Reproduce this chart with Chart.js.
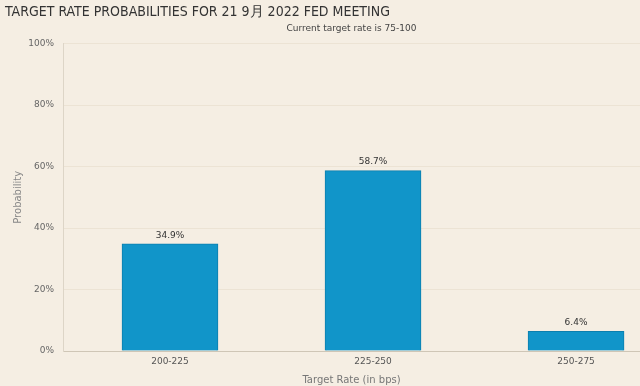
<!DOCTYPE html>
<html>
<head>
<meta charset="utf-8">
<script src="https://cdn.jsdelivr.net/npm/chart.js@4/dist/chart.umd.min.js"></script>
<style>
    html, body { margin: 0; padding: 0; background: #f5eee3; overflow: hidden; }
    #wrap { width: 640px; height: 386px; position: relative; }
</style>
</head>
<body>
<div id="wrap"><canvas id="chart"></canvas></div>
<script>
const categories = ['200-225', '225-250', '250-275'];
const probabilities = [34.9, 58.7, 6.4];
const yTicks = [0, 20, 40, 60, 80, 100];
const titleText = 'TARGET RATE PROBABILITIES FOR 21 9月 2022 FED MEETING';
const subtitleText = 'Current target rate is 75-100';

const fontFamily = '"DejaVu Sans", sans-serif';
const titleFamily = '"Liberation Sans Narrow", "DejaVu Sans Condensed", sans-serif';

// value labels above the bars
const barLabels = {
    id: 'barLabels',
    afterDatasetsDraw: function (chart) {
        const ctx = chart.ctx;
        const meta = chart.getDatasetMeta(0);
        ctx.save();
        ctx.font = '9px ' + fontFamily;
        ctx.fillStyle = '#333';
        ctx.textAlign = 'center';
        ctx.textBaseline = 'bottom';
        meta.data.forEach((bar, i) => {
            ctx.fillText(probabilities[i].toFixed(1) + '%', bar.x, bar.y - 4);
        });
        ctx.restore();
    }
};

const chart = new Chart(document.getElementById('chart').getContext('2d'), {
    type: 'bar',
    data: {
        datasets: [{
            label: 'Probability',
            data: probabilities.map((v, i) => ({ x: i, y: v })),
            backgroundColor: '#1195c9',
            borderColor: '#0c7fae',
            borderWidth: 1,
            barThickness: 96
        }]
    },
    options: {
        responsive: true,
        maintainAspectRatio: false,
        animation: false,
        layout: { padding: { left: 5, right: 0, top: 0, bottom: 0 } },
        plugins: {
            legend: { display: false },
            tooltip: { enabled: false },
            title: {
                display: true,
                text: titleText,
                align: 'start',
                color: '#333',
                font: { family: titleFamily, size: 14, weight: 'normal' },
                padding: { top: 4, bottom: 2 }
            },
            subtitle: {
                display: true,
                text: subtitleText,
                fullSize: false,
                color: '#444',
                font: { family: fontFamily, size: 9 },
                padding: { top: 0, bottom: 10 }
            }
        },
        scales: {
            x: {
                type: 'linear',
                offset: false,
                min: -0.527,
                max: 2.315,
                afterBuildTicks: function (scale) {
                    scale.ticks = categories.map((c, i) => ({ value: i }));
                },
                afterFit: function (scale) {
                    scale.height = 35;
                },
                ticks: {
                    color: '#555',
                    font: { family: fontFamily, size: 9 },
                    padding: 5,
                    maxRotation: 0,
                    callback: (v) => categories[v]
                },
                grid: { display: false, drawTicks: false, offset: false },
                border: { display: true, color: '#cfc6b6' },
                title: {
                    display: true,
                    text: 'Target Rate (in bps)',
                    color: '#777',
                    font: { family: fontFamily, size: 10 },
                    padding: { top: 1, bottom: 0 }
                }
            },
            y: {
                min: 0,
                max: 100,
                afterBuildTicks: function (scale) {
                    scale.ticks = yTicks.map((v) => ({ value: v }));
                },
                afterFit: function (scale) {
                    scale.width = 58;
                },
                ticks: {
                    color: '#666',
                    font: { family: fontFamily, size: 9 },
                    padding: 9,
                    callback: (v) => v + '%'
                },
                grid: { color: '#ece3d4', drawTicks: false },
                border: { display: true, color: '#ddd5c7' },
                title: {
                    display: true,
                    text: 'Probability',
                    color: '#888',
                    font: { family: fontFamily, size: 10 },
                    padding: { top: 7, bottom: 4 }
                }
            }
        }
    },
    plugins: [barLabels]
});
</script>
</body>
</html>
